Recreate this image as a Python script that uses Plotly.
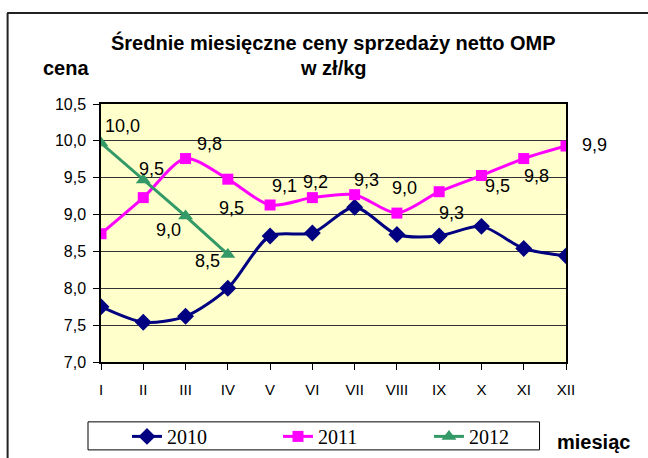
import plotly.graph_objects as go

months = ["I", "II", "III", "IV", "V", "VI", "VII", "VIII", "IX", "X", "XI", "XII"]
y2010 = [7.75, 7.54, 7.62, 8.00, 8.71, 8.75, 9.10, 8.73, 8.71, 8.84, 8.54, 8.44]
y2011 = [8.74, 9.23, 9.76, 9.48, 9.13, 9.23, 9.27, 9.02, 9.31, 9.53, 9.76, 9.93]
y2012 = [9.97, 9.47, 8.98, 8.46]

# label offsets (px) for data labels
off2011 = [None, None, (24, 15), (4, -29), (14, 19), (3, 16), (12, 15), (8, 25),
           (12, -21), (16, -10), (13, -17), (28, 1)]
off2012 = [(21, 17), (8, 11), (-17, -14), (-20, -7)]

W, H = 648, 458
L, R, T, B = 101, 566.5, 104, 361.7
pw, ph = R - L, B - T


def px(x):
    return (x - L) / pw


def py(y):
    return (B - y) / ph


def fmt(v):
    return f"{v:.1f}".replace(".", ",")


fig = go.Figure()
fig.add_trace(go.Scatter(
    x=months, y=y2010, name="2010", mode="lines+markers",
    line=dict(color="#000080", width=3, shape="spline", smoothing=0.8),
    marker=dict(symbol="diamond", size=13, color="#000080"),
))
fig.add_trace(go.Scatter(
    x=months, y=y2011, name="2011", mode="lines+markers",
    line=dict(color="#FF00FF", width=3, shape="spline", smoothing=0.8),
    marker=dict(symbol="square", size=11, color="#FF00FF"),
))
fig.add_trace(go.Scatter(
    x=months[:len(y2012)], y=y2012, name="2012", mode="lines+markers",
    line=dict(color="#339966", width=3),
    marker=dict(symbol="triangle-up", size=13, color="#339966"),
))

ann = []
lab_font = dict(family="Liberation Sans, Arial", size=18, color="black")
for m, v, o in zip(months, y2011, off2011):
    if o is None:
        continue
    ann.append(dict(x=m, y=v, text=fmt(v), showarrow=False, xshift=o[0],
                    yshift=o[1], font=lab_font))
for m, v, o in zip(months, y2012, off2012):
    ann.append(dict(x=m, y=v, text=fmt(v), showarrow=False, xshift=o[0],
                    yshift=o[1], font=lab_font))

bold = dict(family="Liberation Sans, Arial", size=20, color="black")
ann += [
    dict(xref="paper", yref="paper", x=px(334), y=py(43), text="<b>Średnie miesięczne ceny sprzedaży netto OMP</b>",
         showarrow=False, font=bold, xanchor="center", yanchor="middle"),
    dict(xref="paper", yref="paper", x=px(334), y=py(68), text="<b>w zł/kg</b>",
         showarrow=False, font=bold, xanchor="center", yanchor="middle"),
    dict(xref="paper", yref="paper", x=px(66), y=py(68), text="<b>cena</b>",
         showarrow=False, font=bold, xanchor="center", yanchor="middle"),
    dict(xref="paper", yref="paper", x=px(594), y=py(442), text="<b>miesiąc</b>",
         showarrow=False, font=bold, xanchor="center", yanchor="middle"),
]

shapes = [
    dict(type="line", xref="paper", yref="paper", x0=px(7), x1=px(650), y0=py(13), y1=py(13),
         line=dict(color="#222", width=2)),
    dict(type="line", xref="paper", yref="paper", x0=px(7.5), x1=px(7.5), y0=py(13), y1=py(460),
         line=dict(color="#222", width=2)),
    dict(type="rect", xref="paper", yref="paper", x0=px(88), x1=px(540), y0=py(421.5), y1=py(449.5),
         line=dict(color="black", width=1), fillcolor="white", layer="below"),
]

fig.update_layout(
    width=W, height=H,
    margin=dict(l=L, r=W - R, t=T, b=H - B, pad=0, autoexpand=False),
    paper_bgcolor="white", plot_bgcolor="#FFFFCC",
    separators=", ",
    showlegend=True,
    legend=dict(orientation="h", x=px(127), y=py(436), xanchor="left", yanchor="middle",
                borderwidth=0, bgcolor="rgba(0,0,0,0)",
                font=dict(family="Liberation Serif, Times New Roman", size=20, color="black"),
                entrywidth=106, entrywidthmode="pixels"),
    annotations=ann, shapes=shapes,
    font=dict(family="Liberation Sans, Arial", size=15, color="black"),
)
fig.update_xaxes(type="category", range=[0, 11], showgrid=False, showline=True, linecolor="black",
                 linewidth=1.5, mirror=True, ticks="outside", ticklen=6, tickcolor="black",
                 tickfont=dict(size=15), ticklabelstandoff=7)
fig.update_yaxes(range=[7, 10.5], dtick=0.5, tickformat=".1f", showgrid=True, gridcolor="#333",
                 gridwidth=1, showline=True, linecolor="black", linewidth=1.5, mirror=True,
                 ticks="outside", ticklen=6, tickcolor="black", tickfont=dict(size=16),
                 zeroline=False, ticklabelstandoff=4)

fig.write_html("out.html", config={"displayModeBar": False},
               post_script="document.body.style.margin='0';")
